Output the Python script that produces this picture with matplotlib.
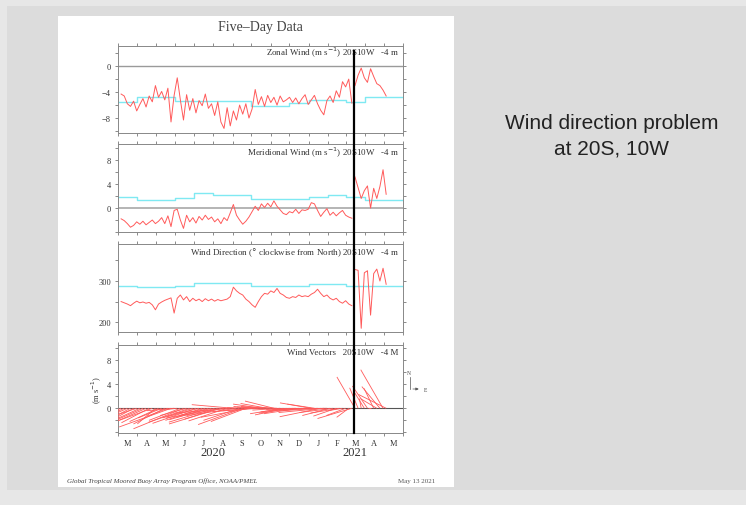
import numpy as np
import matplotlib
matplotlib.use('Agg')
import matplotlib.pyplot as plt
import matplotlib.dates as mdates
from matplotlib.patches import Rectangle
from matplotlib.collections import LineCollection
from matplotlib.lines import Line2D
from matplotlib.ticker import MultipleLocator, FixedLocator
from matplotlib.transforms import blended_transform_factory

plt.rcParams['font.family'] = ['Liberation Serif', 'DejaVu Serif']

FIG_W, FIG_H, DPI = 746, 506, 100

# five-day samples, 2020-03-06 .. 2021-05-06
dates = np.arange('2020-03-06', '2021-05-07', 5, dtype='datetime64[D]')
break_date = np.datetime64('2021-03-14')   # sensor problem / black marker line

zonal = [-4.3, -4.6, -5.8, -6.2, -5.4, -6.9, -5.9, -5.0, -6.3, -4.6,
         -5.5, -3.0, -4.8, -3.9, -5.2, -3.4, -8.6, -4.5, -1.8, -5.2,
         -8.3, -4.4, -6.8, -5.0, -7.2, -5.3, -6.1, -4.3, -6.5, -5.8,
         -7.6, -5.5, -8.6, -9.6, -6.4, -9.2, -6.9, -8.3, -6.0, -7.4,
         -5.8, -8.0, -6.6, -3.6, -5.9, -4.7, -6.2, -4.5, -5.6, -4.8,
         -6.0, -4.6, -5.5, -5.2, -4.8, -5.6, -4.9, -5.8, -5.0, -4.4,
         -5.9, -5.2, -4.5, -5.8, -6.8, -7.5, -5.3, -4.6, -5.6, -3.8,
         -4.8, -2.4, -3.2, -2.0, -5.7,
         -3.0, -1.4, -0.3, -1.8, -2.5, -0.4, -1.6, -2.7, -3.0, -3.7, -4.6]

meridional = [-1.8, -2.1, -2.6, -3.2, -2.9, -2.3, -2.7, -2.2, -2.8, -2.4,
              -2.0, -2.6, -2.2, -1.6, -2.6, -1.3, -3.1, -0.4, -0.2, -2.0,
              -3.4, -1.2, -2.3, -1.6, -2.5, -1.4, -2.0, -1.2, -1.9, -1.5,
              -2.3, -1.8, -2.6, -1.6, -2.1, -0.8, 0.6, -1.2, -2.0, -2.7,
              -2.2, -1.5, -0.6, 0.3, -0.4, 0.7, 0.1, 0.8, 0.2, 1.2,
              0.3, -0.3, -0.9, -1.1, -0.6, -0.8, -0.2, -0.9, -0.3, -0.4,
              -0.2, 0.9, 0.7, -0.4, -1.4, -0.7, -0.1, -1.2, -0.7, -1.3,
              -0.8, -0.4, -1.2, -1.5, -1.7,
              5.2, 3.4, 1.6, 2.9, 3.7, 0.0, 3.3, 1.6, 3.6, 6.4, 2.3]

direction = [250, 247, 244, 240, 246, 251, 247, 249, 246, 248,
             242, 230, 244, 249, 253, 256, 259, 222, 258, 266,
             254, 262, 250, 258, 252, 256, 250, 257, 252, 256,
             251, 255, 252, 254, 256, 262, 285, 276, 270, 266,
             256, 250, 242, 236, 250, 262, 270, 268, 276, 272,
             282, 270, 266, 260, 258, 262, 260, 266, 262, 264,
             262, 268, 272, 280, 270, 262, 266, 258, 254, 258,
             250, 246, 252, 244, 240,
             328, 326, 185, 320, 325, 217, 318, 329, 300, 331, 292]

# monthly climatology, Mar 2020 .. May 2021
month_edges = np.arange('2020-03', '2021-07', dtype='datetime64[M]').astype('datetime64[D]')
clim_zonal = [-5.6, -4.8, -4.8, -5.4, -5.4, -5.4, -5.4, -6.1, -6.1, -5.7, -5.2, -5.2, -5.6, -4.8, -4.8]
clim_merid = [1.9, 1.4, 1.4, 1.6, 2.5, 2.2, 2.1, 1.5, 1.5, 1.5, 1.9, 2.1, 1.9, 1.4, 1.4]
clim_dir = [289, 286, 286, 288, 295, 295, 294, 289, 289, 289, 293, 293, 289, 287, 287]

month_letters = ['M', 'A', 'M', 'J', 'J', 'A', 'S', 'O', 'N', 'D', 'J', 'F', 'M', 'A', 'M']
year_labels = ['2020', '2021']
year_centers = [np.datetime64('2020-08-01'), np.datetime64('2021-03-16')]

panel_titles = ['Zonal Wind (m s$^{-1}$) 20S10W   -4 m',
                'Meridional Wind (m s$^{-1}$) 20S10W   -4 m',
                'Wind Direction ($\\degree$ clockwise from North) 20S10W   -4 m',
                'Wind Vectors   20S10W   -4 M']
labelled_ticks = [[-8, -4, 0], [0, 4, 8], [200, 300], [0, 4, 8]]

RED = '#ff5a5a'
CYAN = '#7fe9f2'

x = mdates.date2num(dates)
xe = mdates.date2num(month_edges)
x_mid = (xe[:-1] + xe[1:]) / 2
xb = mdates.date2num(break_date)
before = x < xb
after = x > xb


def px(l, t, r, b):
    return [l / FIG_W, 1 - b / FIG_H, (r - l) / FIG_W, (b - t) / FIG_H]


def style_axis(ax, ylim, majors, minor):
    ax.set_xlim(xe[0], xe[-1])
    ax.set_ylim(*ylim)
    ax.set_xticks(xe)
    ax.set_xticklabels([])
    ax.yaxis.set_major_locator(FixedLocator(majors))
    ax.yaxis.set_minor_locator(MultipleLocator(minor))
    ax.tick_params(which='both', direction='out', top=True, right=True,
                   length=2.5, width=0.6, color='#777777',
                   labelsize=6, pad=2.5, labelcolor='#333333')
    for sp in ax.spines.values():
        sp.set_color('#888888')
        sp.set_linewidth(0.7)


def step_line(ax, values):
    ax.step(xe, list(values) + [values[-1]], where='post', color=CYAN, lw=1.0, zorder=2)


def red_series(ax, values):
    v = np.asarray(values, dtype=float)
    ax.plot(x[before], v[before], color=RED, lw=0.7, zorder=3)
    ax.plot(x[after], v[after], color=RED, lw=0.7, zorder=3)


fig = plt.figure(figsize=(FIG_W / DPI, FIG_H / DPI), dpi=DPI)
fig.patch.set_facecolor('#e7e7e7')
fig.patches.append(Rectangle((7 / FIG_W, 1 - 491 / FIG_H), 1, (491 - 7) / FIG_H,
                             transform=fig.transFigure, facecolor='#dcdcdc', edgecolor='none', zorder=-3))
fig.patches.append(Rectangle((58 / FIG_W, 1 - 488 / FIG_H), (454 - 58) / FIG_W, (488 - 17) / FIG_H,
                             transform=fig.transFigure, facecolor='white', edgecolor='none', zorder=-2))

ax1 = fig.add_axes(px(118, 47, 403, 134))
ax2 = fig.add_axes(px(118, 145, 403, 233))
ax3 = fig.add_axes(px(118, 245, 403, 333))
ax4 = fig.add_axes(px(118, 346, 403, 434))

# zonal
style_axis(ax1, (-10.3, 3.1), labelled_ticks[0], 2)
ax1.axhline(0, color='#9a9a9a', lw=1.0, zorder=1)
step_line(ax1, clim_zonal)
red_series(ax1, zonal)

# meridional
style_axis(ax2, (-4.0, 10.7), labelled_ticks[1], 2)
ax2.axhline(0, color='#a8a8a8', lw=1.2, zorder=1)
step_line(ax2, clim_merid)
red_series(ax2, meridional)

# direction
style_axis(ax3, (176, 390), labelled_ticks[2], 50)
step_line(ax3, clim_dir)
red_series(ax3, direction)

# vectors
style_axis(ax4, (-4.1, 10.5), labelled_ticks[3], 2)
ax4.axhline(0, color='#555555', lw=0.8, zorder=1)
w_px = ax4.get_position().width * FIG_W
h_px = ax4.get_position().height * FIG_H
y0, y1 = ax4.get_ylim()
days_per_unit = (h_px / (y1 - y0)) / (w_px / (xe[-1] - xe[0]))
segs = [[(t, 0), (t + u * days_per_unit, v)] for t, u, v in zip(x, zonal, meridional)]
ax4.add_collection(LineCollection(segs, colors=RED, linewidths=0.6, zorder=3))
ax4.set_xticks(x_mid, minor=True)
ax4.set_xticklabels(month_letters, minor=True)
ax4.tick_params(axis='x', which='minor', length=0, pad=4, labelsize=6)
ax4.text(-0.075, 0.5, '(m s$^{-1}$)', rotation=90, transform=ax4.transAxes,
         ha='center', va='center', fontsize=6, color='#333333')
bt = blended_transform_factory(ax4.transData, ax4.transAxes)
for lab, c in zip(year_labels, year_centers):
    ax4.text(mdates.date2num(c), -0.215, lab, transform=bt, ha='center', va='center',
             fontsize=9, color='#333333')

# N / E compass
ax4.plot([1.025, 1.025], [0.5, 0.64], transform=ax4.transAxes, clip_on=False, color='#555555', lw=0.5)
ax4.annotate('', xy=(1.065, 0.5), xytext=(1.025, 0.5), xycoords='axes fraction',
             arrowprops=dict(arrowstyle='-|>', lw=0.5, color='#555555', mutation_scale=4))
ax4.text(1.022, 0.69, 'N', transform=ax4.transAxes, fontsize=4, ha='center', va='center', color='#444444')
ax4.text(1.08, 0.5, 'E', transform=ax4.transAxes, fontsize=4, ha='center', va='center', color='#444444')

for ax, title, ty in zip([ax1, ax2, ax3, ax4], panel_titles, [0.935, 0.91, 0.91, 0.92]):
    ax.text(0.985, ty, title, transform=ax.transAxes, ha='right', va='center',
            fontsize=6.5, color='#333333', zorder=5)

# marker line through all panels
lt = blended_transform_factory(ax4.transData, fig.transFigure)
fig.lines.append(Line2D([xb, xb], [1 - 52 / FIG_H, 1 - 434 / FIG_H], transform=lt,
                        color='black', lw=1.6, zorder=10))

fig.text(260 / FIG_W, 1 - 27 / FIG_H, 'Five\u2013Day Data', ha='center', va='center',
         fontsize=10, color='#444444')
fig.text(67 / FIG_W, 1 - 481 / FIG_H, 'Global Tropical Moored Buoy Array Program Office, NOAA/PMEL',
         ha='left', va='center', fontsize=5, style='italic', color='#444444')
fig.text(435 / FIG_W, 1 - 482 / FIG_H, 'May 13 2021', ha='right', va='center',
         fontsize=5, color='#555555')

fig.text(612 / FIG_W, 1 - 136 / FIG_H, 'Wind direction problem\nat 20S, 10W',
         ha='center', va='center', fontsize=15, family='Liberation Sans',
         linespacing=1.45, color='#222222')

fig.savefig('out.png', dpi=DPI)
